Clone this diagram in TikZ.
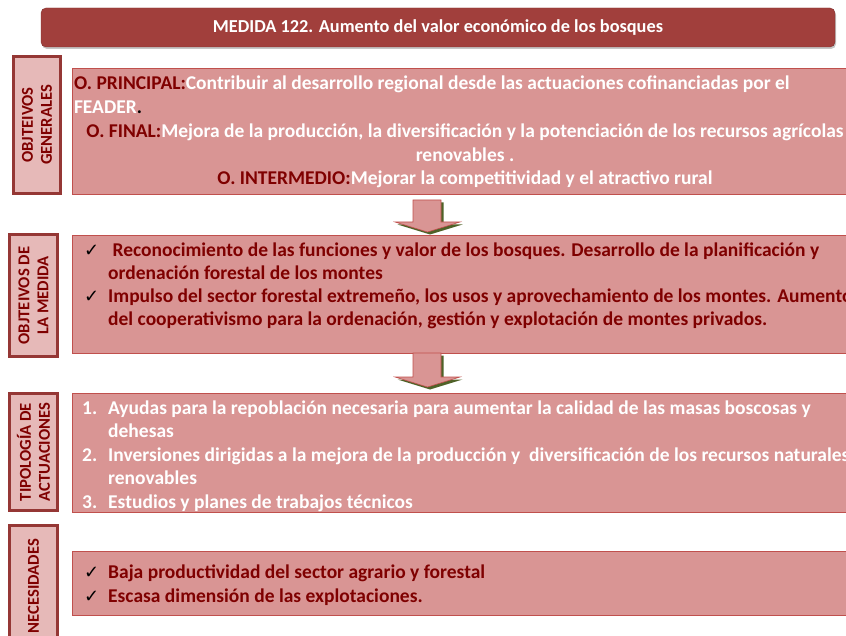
\documentclass[tikz,border=0pt]{standalone}
\usepackage{fontspec}
\setmainfont{Carlito}
\newfontfamily\chkfont{DejaVu Sans}
\usetikzlibrary{shadows}

\definecolor{boxpink}{HTML}{D99594}
\definecolor{boxline}{HTML}{C0504D}
\definecolor{labpink}{HTML}{E6B9B8}
\definecolor{labline}{HTML}{953735}
\definecolor{darkred}{HTML}{7F0000}
\definecolor{titlered}{HTML}{A13F3C}
\definecolor{shadegreen}{HTML}{4F6228}

\newcommand{\chk}{{\chkfont\color{black}\fontsize{18}{18}\selectfont ✓}}

\tikzset{
  titlebar/.style={draw=titlered!80!black, fill=titlered, rounded corners=5pt,
    drop shadow={opacity=0.45, shadow xshift=1pt, shadow yshift=-2pt},
    text=white, font=\bfseries\fontsize{18.3}{20}\selectfont, inner sep=0pt},
  sidelabel/.style={draw=labline, line width=3pt, fill=labpink, rotate=90,
    text=darkred, align=center, inner sep=0pt,
    font=\bfseries\fontsize{16.6}{19}\selectfont},
  mainbox/.style={draw=boxline, line width=0.8pt, fill=boxpink,
    anchor=north west, inner sep=0pt, minimum width=830pt},
  boxtext/.style={inner sep=0pt, align=left, anchor=north west},
  bigfont/.style={font=\bfseries\fontsize{19.5}{23.7}\selectfont},
  downarrow/.style={fill=boxpink, draw=boxline, line width=0.6pt}
}

\begin{document}
\begin{tikzpicture}[x=1pt, y=-1pt]
  \useasboundingbox (0,0) rectangle (846,636);
  \clip (0,0) rectangle (846,636);

  % title
  \node[titlebar, minimum width=794pt, minimum height=39pt] (title) at (438,27.5)
    {MEDIDA 122. Aumento del valor económico de los bosques};

  % side labels
  \node[sidelabel, minimum width=137pt, minimum height=47pt] (lab1) at (37,125)
    {OBJTEIVOS\\GENERALES};
  \node[sidelabel, minimum width=122pt, minimum height=48pt] (lab2) at (33.5,295.5)
    {OBJTEIVOS DE\\LA MEDIDA};
  \node[sidelabel, minimum width=117pt, minimum height=48pt] (lab3) at (33.5,452)
    {TIPOLOGÍA DE\\ACTUACIONES};
  \node[sidelabel, minimum width=121pt, minimum height=48pt] (lab4) at (33.5,586)
    {NECESIDADES};

  % main boxes
  \node[mainbox, minimum height=126pt] (box1) at (72,68) {};
  \node[mainbox, minimum height=118pt] (box2) at (72,235) {};
  \node[mainbox, minimum height=119pt] (box3) at (72,393) {};
  \node[mainbox, minimum height=64pt] (box4) at (72,551) {};

  % block arrows between the boxes
  \foreach \ay/\ah in {200/22, 353/24} {
    \fill[shadegreen, shift={(2.5,2.5)}]
      (413,\ay) -- (441,\ay) -- (441,\ay+\ah) -- (460,\ay+\ah)
      -- (427.5,\ay+\ah+10) -- (395,\ay+\ah) -- (413,\ay+\ah) -- cycle;
    \draw[downarrow]
      (413,\ay) -- (441,\ay) -- (441,\ay+\ah) -- (460,\ay+\ah)
      -- (427.5,\ay+\ah+10) -- (395,\ay+\ah) -- (413,\ay+\ah) -- cycle;
  }

  % texts
  \node[boxtext, bigfont, align=center, anchor=north, text=white] (txt1) at (465,76)
    {\makebox[782pt][l]{\textcolor{darkred}{O. PRINCIPAL:}Contribuir al desarrollo regional desde las actuaciones cofinanciadas por el}\\
     \makebox[782pt][l]{FEADER\textcolor{black}{.}}\\
     \textcolor{darkred}{O. FINAL:}Mejora de la producción, la diversificación y la potenciación de los recursos agrícolas\\
     renovables .\\
     \textcolor{darkred}{O. INTERMEDIO:}Mejorar la competitividad y el atractivo rural};

  \node[boxtext, text=darkred, font=\bfseries\fontsize{19.5}{22.9}\selectfont] (txt2) at (84,243)
    {\makebox[24pt][l]{\chk}\ Reconocimiento de las funciones y valor de los bosques. Desarrollo de la planificación y\\
     \hspace*{24pt}ordenación forestal de los montes\\
     \makebox[24pt][l]{\chk}Impulso del sector forestal extremeño, los usos y aprovechamiento de los montes. Aumento\\
     \hspace*{24pt}del cooperativismo para la ordenación, gestión y explotación de montes privados.};

  \node[boxtext, text=white, font=\bfseries\fontsize{19.5}{23.5}\selectfont] (txt3) at (82,400.5)
    {\makebox[26pt][l]{1.}Ayudas para la repoblación necesaria para aumentar la calidad de las masas boscosas y\\
     \hspace*{26pt}dehesas\\
     \makebox[26pt][l]{2.}Inversiones dirigidas a la mejora de la producción y \ diversificación de los recursos naturales\\
     \hspace*{26pt}renovables\\
     \makebox[26pt][l]{3.}Estudios y planes de trabajos técnicos};

  \node[boxtext, text=darkred, font=\bfseries\fontsize{19.5}{24.5}\selectfont] (txt4) at (84,564.5)
    {\makebox[24pt][l]{\chk}Baja productividad del sector agrario y forestal\\
     \makebox[24pt][l]{\chk}Escasa dimensión de las explotaciones.};
\end{tikzpicture}
\end{document}
